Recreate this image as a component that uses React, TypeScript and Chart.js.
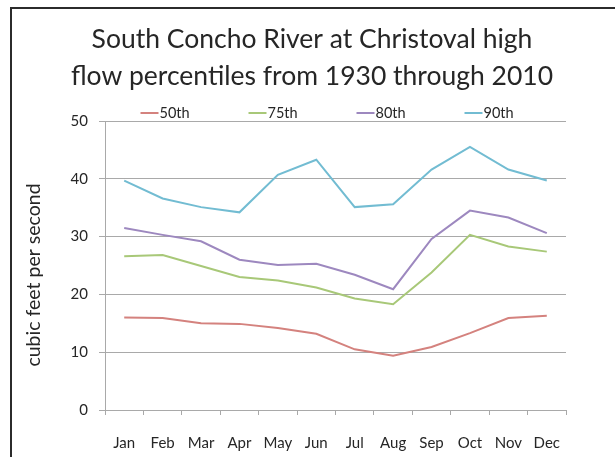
import React, { useEffect, useRef } from "react";
import { Chart, registerables } from "chart.js";

Chart.register(...registerables);

const titleLines = ["South Concho River at Christoval high", "flow percentiles from 1930 through 2010"];
const yAxisTitle = "cubic feet per second";
const months = ["Jan", "Feb", "Mar", "Apr", "May", "Jun", "Jul", "Aug", "Sep", "Oct", "Nov", "Dec"];
const seriesNames = ["50th", "75th", "80th", "90th"];
const p50 = [16.0, 15.9, 15.0, 14.9, 14.2, 13.2, 10.5, 9.4, 10.9, 13.3, 15.9, 16.3];
const p75 = [26.6, 26.8, 24.9, 23.0, 22.4, 21.2, 19.3, 18.3, 23.8, 30.3, 28.3, 27.4];
const p80 = [31.5, 30.3, 29.2, 26.0, 25.1, 25.3, 23.4, 20.9, 29.6, 34.5, 33.3, 30.6];
const p90 = [39.7, 36.6, 35.1, 34.2, 40.7, 43.3, 35.1, 35.6, 41.6, 45.5, 41.6, 39.7];
const seriesColors = ["#d4827e", "#a8c878", "#9d88bf", "#72bcd2"];
const yMin = 0;
const yMax = 50;
const yStep = 10;

const FONT = "Lato, 'Open Sans', sans-serif";
const TEXT = "#262626";
const GRID = "#a9a9a9";

const decorPlugin = {
  id: "decor",
  afterDraw(chart: any) {
    const ctx = chart.ctx;
    ctx.save();
    // Title
    ctx.fillStyle = TEXT;
    ctx.font = `26.5px ${FONT}`;
    ctx.textAlign = "center";
    ctx.textBaseline = "alphabetic";
    ctx.fillText(titleLines[0], 300, 39);
    ctx.fillText(titleLines[1], 300, 76);
    // Legend
    ctx.font = `14.5px ${FONT}`;
    ctx.textAlign = "left";
    ctx.textBaseline = "middle";
    chart.data.datasets.forEach((ds: any, i: number) => {
      const x0 = 128.5 + i * 108;
      const y = 104;
      ctx.strokeStyle = ds.borderColor;
      ctx.lineWidth = 2;
      ctx.beginPath();
      ctx.moveTo(x0, y);
      ctx.lineTo(x0 + 18, y);
      ctx.stroke();
      ctx.fillStyle = TEXT;
      ctx.fillText(ds.label, x0 + 19, y);
    });
    // Y axis title
    ctx.translate(22, 266);
    ctx.rotate(-Math.PI / 2);
    ctx.font = `19.5px ${FONT}`;
    ctx.textAlign = "center";
    ctx.textBaseline = "middle";
    ctx.fillStyle = TEXT;
    ctx.fillText(yAxisTitle, 0, 0);
    ctx.restore();
  },
};

export default function App() {
  const ref = useRef<HTMLCanvasElement | null>(null);
  useEffect(() => {
    if (!ref.current) return;
    const values = [p50, p75, p80, p90];
    const chart = new Chart(ref.current, {
      type: "line",
      data: {
        labels: months,
        datasets: values.map((v, i) => ({
          label: seriesNames[i],
          data: v,
          borderColor: seriesColors[i],
          backgroundColor: seriesColors[i],
          borderWidth: 2,
          pointRadius: 0,
          tension: 0,
          fill: false,
        })),
      },
      options: {
        animation: false,
        responsive: false,
        devicePixelRatio: 1,
        layout: { padding: { left: 0, top: 112, right: 49, bottom: 0 } },
        plugins: {
          legend: { display: false },
          title: { display: false },
          tooltip: { enabled: false },
        },
        scales: {
          x: {
            offset: true,
            afterFit: (s: any) => {
              s.height = 47;
            },
            grid: {
              offset: true,
              drawOnChartArea: false,
              drawTicks: true,
              tickLength: 5,
              color: GRID,
            },
            border: { display: true, color: GRID, width: 1 },
            ticks: {
              color: TEXT,
              font: { family: FONT, size: 15 },
              padding: 19,
              maxRotation: 0,
              autoSkip: false,
            },
          },
          y: {
            min: yMin,
            max: yMax,
            afterFit: (s: any) => {
              s.width = 93;
            },
            grid: { color: GRID, tickLength: 6, drawTicks: true },
            border: { display: true, color: GRID, width: 1 },
            ticks: {
              stepSize: yStep,
              color: TEXT,
              font: { family: FONT, size: 15 },
              padding: 11,
            },
          },
        },
      },
      plugins: [decorPlugin],
    });
    return () => chart.destroy();
  }, []);

  return (
    <div
      style={{
        position: "absolute",
        left: 0,
        top: 0,
        width: 615,
        height: 457,
        overflow: "hidden",
        background: "#fff",
      }}
    >
      <div
        style={{
          position: "absolute",
          left: 10,
          top: 7,
          width: 700,
          height: 600,
          borderLeft: "2px solid #2b2b2b",
          borderTop: "2px solid #2b2b2b",
        }}
      >
        <canvas ref={ref} width={603} height={448} style={{ display: "block" }} />
      </div>
    </div>
  );
}
